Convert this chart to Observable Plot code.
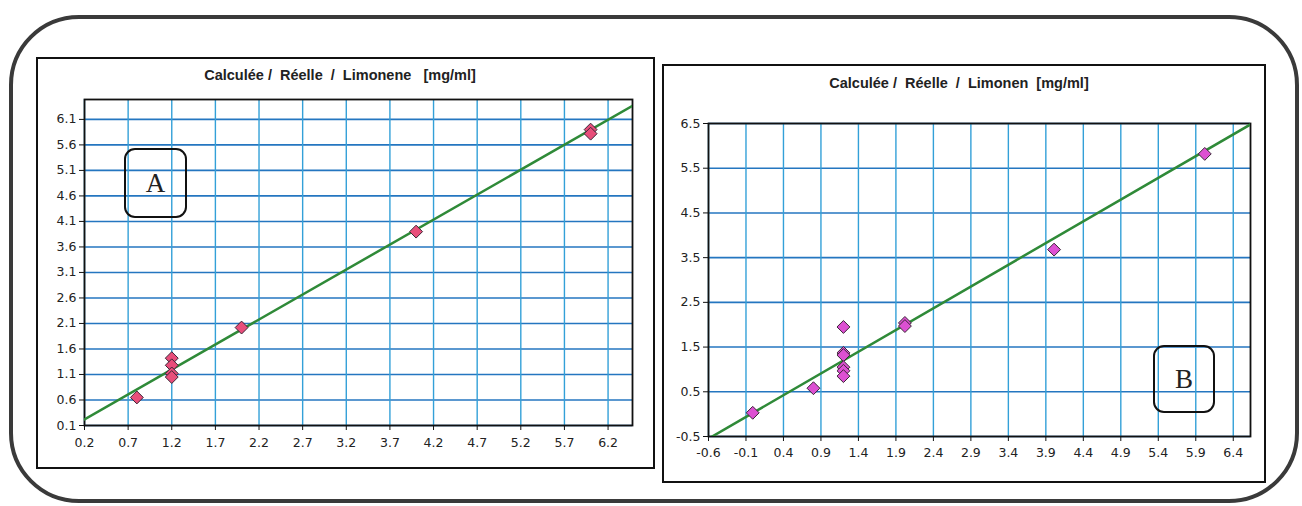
<!DOCTYPE html>
<html><head><meta charset="utf-8">
<script src="https://cdn.jsdelivr.net/npm/d3@7"></script>
<script src="https://cdn.jsdelivr.net/npm/@observablehq/plot@0.6"></script>
<style>
body{margin:0;background:#fff;}
#page{position:relative;width:1302px;height:506px;overflow:hidden;background:#fff;}
.frame{position:absolute;left:9px;top:15px;width:1290px;height:488px;box-sizing:border-box;border:4px solid #3a3a3a;border-radius:70px;}
.panel{position:absolute;box-sizing:border-box;border:2px solid #111;background:#fff;}
.title{position:absolute;font-family:"Liberation Sans Narrow","Arial Narrow",sans-serif;font-weight:bold;font-size:14.5px;color:#222;white-space:pre;transform:translateX(-50%);line-height:16px;}
.tag{position:absolute;box-sizing:border-box;border:2.5px solid #111;border-radius:11px;font-family:"Liberation Serif","DejaVu Serif",serif;font-size:27px;color:#222;display:flex;align-items:center;justify-content:center;background:transparent;}
.chart{position:absolute;}
</style></head>
<body><div id="page">
<div class="frame"></div>
<div class="panel" style="left:36px;top:57px;width:619px;height:412px;"></div>
<div class="panel" style="left:662px;top:64px;width:604px;height:419px;"></div>
<div class="title" style="left:340px;top:67px;">Calculée /  Réelle  /  Limonene   [mg/ml]</div>
<div class="title" style="left:959px;top:75px;">Calculée /  Réelle  /  Limonen  [mg/ml]</div>
<div class="chart" id="chartA" style="left:38px;top:92px;"></div>
<div class="chart" id="chartB" style="left:664px;top:115px;"></div>
<div class="tag" style="left:124px;top:148px;width:63px;height:70px;">A</div>
<div class="tag" style="left:1153px;top:345px;width:62px;height:68px;">B</div>
</div>
<script>
// Panel A data (real vs calculated limonene, mg/ml)
const realA = [0.8, 1.2, 1.2, 1.2, 1.2, 2.0, 4.0, 6.0, 6.0];
const calcA = [0.65, 1.42, 1.28, 1.12, 1.05, 2.02, 3.9, 5.9, 5.82];
const fitA = {slope: 0.979, intercept: 0.024};
const xTicksA = [0.2, 0.7, 1.2, 1.7, 2.2, 2.7, 3.2, 3.7, 4.2, 4.7, 5.2, 5.7, 6.2];
const yTicksA = [0.1, 0.6, 1.1, 1.6, 2.1, 2.6, 3.1, 3.6, 4.1, 4.6, 5.1, 5.6, 6.1];
const xDomainA = [0.2, 6.48];
const yDomainA = [0.1, 6.49];

// Panel B data
const realB = [-0.01, 0.8, 1.2, 1.2, 1.2, 1.2, 1.2, 1.2, 2.02, 2.02, 4.01, 6.02];
const calcB = [0.03, 0.58, 1.95, 1.37, 1.32, 1.05, 0.97, 0.85, 2.04, 1.97, 3.68, 5.82];
const fitB = {slope: 0.972, intercept: 0.035};
const xTicksB = [-0.6, -0.1, 0.4, 0.9, 1.4, 1.9, 2.4, 2.9, 3.4, 3.9, 4.4, 4.9, 5.4, 5.9, 6.4];
const yTicksB = [-0.5, 0.5, 1.5, 2.5, 3.5, 4.5, 5.5, 6.5];
const xDomainB = [-0.6, 6.63];
const yDomainB = [-0.5, 6.5];

function makeChart(o) {
  const pts = o.real.map((r, i) => ({real: r, calc: o.calc[i]}));
  const fitLine = o.xDomain.map(x => ({real: x, calc: o.fit.slope * x + o.fit.intercept}));
  const fmt = d => d.toFixed(1);
  return Plot.plot({
    width: o.width, height: o.height,
    marginLeft: o.ml, marginTop: o.mt, marginRight: o.mr, marginBottom: o.mb,
    style: {fontFamily: "DejaVu Sans, sans-serif", fontSize: "12px", color: "#222", background: "transparent"},
    x: {domain: o.xDomain},
    y: {domain: o.yDomain},
    marks: [
      Plot.gridY(o.yTicks, {stroke: "#2476c0", strokeOpacity: 1, strokeWidth: 1.6}),
      Plot.gridX(o.xTicks, {stroke: "#33a0d8", strokeOpacity: 1, strokeWidth: 1.4}),
      Plot.frame({stroke: "#111", strokeWidth: 1.8}),
      Plot.axisX(o.xTicks, {tickFormat: fmt, tickSize: 5, tickPadding: o.xPad, label: null, stroke: "#111", fontSize: 12.5}),
      Plot.axisY(o.yTicks, {tickFormat: fmt, tickSize: 5, tickPadding: 3, label: null, stroke: "#111", fontSize: 12.5}),
      Plot.line(fitLine, {x: "real", y: "calc", stroke: "#2f8a38", strokeWidth: 2.5, clip: true}),
      Plot.dot(pts, {x: "real", y: "calc", symbol: "diamond2", r: 5.8, fill: o.color, stroke: "#3a2636", strokeWidth: 1})
    ]
  });
}

document.getElementById("chartA").append(makeChart({
  real: realA, calc: calcA, fit: fitA, xTicks: xTicksA, yTicks: yTicksA,
  xDomain: xDomainA, yDomain: yDomainA, color: "#e84e7a",
  width: 612, height: 373, ml: 46, mt: 7, mr: 18, mb: 40, xPad: 8
}));
document.getElementById("chartB").append(makeChart({
  real: realB, calc: calcB, fit: fitB, xTicks: xTicksB, yTicks: yTicksB,
  xDomain: xDomainB, yDomain: yDomainB, color: "#dd50d2",
  width: 598, height: 365, ml: 44, mt: 8, mr: 12, mb: 44, xPad: 7
}));
</script>
</body></html>
